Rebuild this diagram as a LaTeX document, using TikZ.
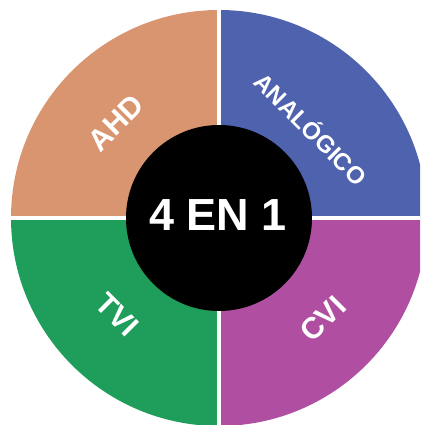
\documentclass[tikz,border=0pt]{standalone}
\usepackage{fontspec}
\setmainfont{Liberation Sans}
\definecolor{ahdcol}{HTML}{D9956F}
\definecolor{anacol}{HTML}{4F62AE}
\definecolor{tvicol}{HTML}{1E9D5B}
\definecolor{cvicol}{HTML}{B04FA2}
\tikzset{
  lbl/.style={text=white, font=\bfseries\fontsize{30}{30}\selectfont},
  sep/.style={white, line width=3.5pt}
}
\begin{document}
\begin{tikzpicture}[x=1pt,y=1pt]
\useasboundingbox (0,0) rectangle (420,425);
\clip (0,0) rectangle (420,425);
\coordinate (c) at (219,207);
\fill[ahdcol] (c) -- ++(180:208) arc (180:90:208) -- cycle;
\fill[anacol] (c) -- ++(90:208) arc (90:0:208) -- cycle;
\fill[cvicol] (c) -- ++(0:208) arc (0:-90:208) -- cycle;
\fill[tvicol] (c) -- ++(-90:208) arc (-90:-180:208) -- cycle;
\draw[sep] ([xshift=-210pt]c) -- ([xshift=210pt]c);
\draw[sep] ([yshift=-210pt]c) -- ([yshift=210pt]c);
\fill[black] (c) circle (93);
\node[text=white, font=\bfseries\fontsize{45}{45}\selectfont] (centro) at (218,210) {4 EN 1};
\node[lbl, rotate=45] (ahd) at (116,302) {AHD};
\node[lbl, rotate=-45, font=\bfseries\fontsize{24}{24}\selectfont] (ana) at (312,297) {ANALÓGICO};
\node[lbl, rotate=-45] (tvi) at (117,110) {TVI};
\node[lbl, rotate=45] (cvi) at (323,106) {CVI};
\end{tikzpicture}
\end{document}
